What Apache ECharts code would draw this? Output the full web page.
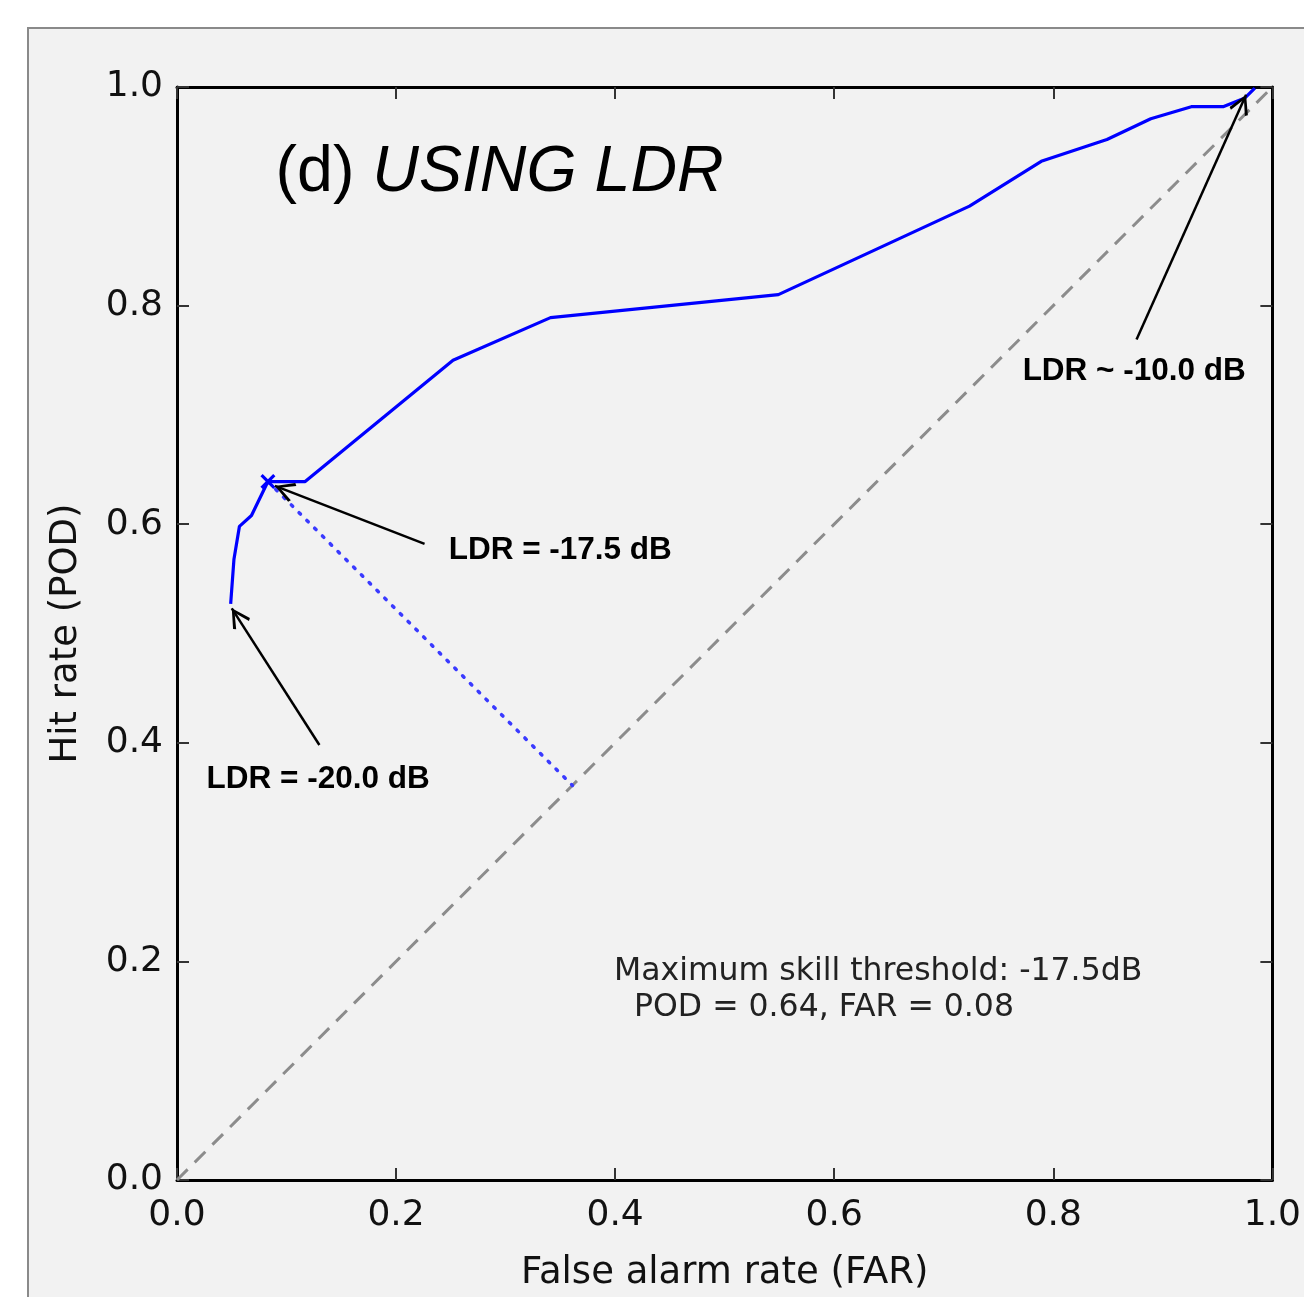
<!DOCTYPE html>
<html>
<head>
<meta charset="utf-8">
<script src="https://cdn.jsdelivr.net/npm/echarts@6/dist/echarts.min.js"></script>
<style>
  html, body { margin: 0; padding: 0; background: #fff; }
  #main { width: 1304px; height: 1297px; }
</style>
</head>
<body>
<div id="main"></div>
<script>
// ROC curve
const rocFar = [0.049, 0.052, 0.057, 0.068, 0.083, 0.117, 0.252, 0.341, 0.549, 0.7235, 0.789, 0.849, 0.889, 0.926, 0.955, 0.975, 0.984];
const rocPod = [0.527, 0.568, 0.598, 0.608, 0.639, 0.639, 0.750, 0.789, 0.810, 0.891, 0.932, 0.952, 0.971, 0.982, 0.982, 0.990, 0.999];

// no-skill diagonal
const diagFar = [0, 1];
const diagPod = [0, 1];

// best threshold and its distance to the diagonal
const bestPoint = [0.083, 0.639];
const bestFoot = [0.361, 0.361];

// arrows: [tail, head]
const arrowTails = [[0.876, 0.769], [0.226, 0.582], [0.130, 0.398]];
const arrowHeads = [[0.976, 0.993], [0.0894, 0.635], [0.050, 0.523]];

// annotation texts and their anchors (left, middle)
const noteTexts = ['LDR ~ -10.0 dB', 'LDR = -17.5 dB', 'LDR = -20.0 dB'];
const noteAnchors = [[0.772, 0.740], [0.248, 0.576], [0.027, 0.367]];

const tickLabels = ['0.0', '0.2', '0.4', '0.6', '0.8', '1.0'];

const chevron = 'path://M5,0 L10,9 L8.8,10 L5,2.6 L1.2,10 L0,9 Z';

const chart = echarts.init(document.getElementById('main'));

const tickFmt = v => tickLabels[Math.round(v / 0.2)];

const baseAxis = {
	type: 'value',
	min: 0,
	max: 1,
	interval: 0.2,
	splitLine: { show: false },
	axisLine: { show: true, onZero: false, lineStyle: { color: '#000', width: 3 } },
	axisTick: { show: true, inside: true, length: 12, lineStyle: { color: '#333', width: 2 } }
};

const labelStyle = {
	fontFamily: 'DejaVu Sans',
	fontSize: 36,
	color: '#111'
};

chart.setOption({
	backgroundColor: '#fff',
	animation: false,
	graphic: [{
		type: 'rect',
		z: -10,
		shape: { x: 28, y: 28, width: 1400, height: 1400 },
		style: { fill: '#f2f2f2', stroke: '#8a8a8a', lineWidth: 2 }
	}],
	grid: { left: 177, top: 87, right: 31, bottom: 114 },
	xAxis: [
		Object.assign({}, baseAxis, {
			position: 'bottom',
			axisLabel: Object.assign({ margin: 18, showMinLabel: true, showMaxLabel: true, formatter: tickFmt }, labelStyle),
			name: 'False alarm rate (FAR)',
			nameLocation: 'middle',
			nameGap: 75,
			nameTextStyle: { fontFamily: 'DejaVu Sans', fontSize: 37, color: '#111' }
		}),
		Object.assign({}, baseAxis, { position: 'top', axisLabel: { show: false } })
	],
	yAxis: [
		Object.assign({}, baseAxis, {
			position: 'left',
			axisLabel: Object.assign({ margin: 14, showMinLabel: true, showMaxLabel: true, formatter: tickFmt }, labelStyle),
			name: 'Hit rate (POD)',
			nameLocation: 'middle',
			nameGap: 92,
			nameTextStyle: { fontFamily: 'DejaVu Sans', fontSize: 37, color: '#111' }
		}),
		Object.assign({}, baseAxis, { position: 'right', axisLabel: { show: false } })
	],
	series: [
		{
			name: 'diagonal',
			type: 'line',
			showSymbol: false,
			silent: true,
			data: diagFar.map((x, i) => [x, diagPod[i]]),
			lineStyle: { color: '#8c8c8c', width: 3, type: [15, 10] },
			z: 1
		},
		{
			name: 'distance',
			type: 'line',
			showSymbol: false,
			data: [bestPoint, bestFoot],
			lineStyle: { color: '#3a3aff', width: 3.5, type: [2, 9], cap: 'round' },
			z: 2
		},
		{
			name: 'ROC',
			type: 'line',
			showSymbol: false,
			data: rocFar.map((x, i) => [x, rocPod[i]]),
			lineStyle: { color: '#0000ff', width: 3.2 },
			z: 3,
			markLine: {
				silent: true,
				label: { show: false },
				lineStyle: { color: '#000', width: 2.5, type: 'solid' },
				data: arrowTails.map((t, i) => [
					{ coord: t, symbol: 'none' },
					{ coord: arrowHeads[i], symbol: chevron, symbolSize: 20, symbolOffset: [0, 10], itemStyle: { color: '#000' } }
				])
			}
		},
		{
			name: 'best',
			type: 'scatter',
			data: [bestPoint],
			symbol: 'path://M0,1.5 L1.5,0 L5,3.5 L8.5,0 L10,1.5 L6.5,5 L10,8.5 L8.5,10 L5,6.5 L1.5,10 L0,8.5 L3.5,5 Z',
			symbolSize: 15,
			itemStyle: { color: '#0000ff', opacity: 1 },
			z: 4
		},
		{
			name: 'notes',
			type: 'scatter',
			symbolSize: 0,
			silent: true,
			itemStyle: { opacity: 1 },
			z: 5,
			data: noteAnchors.map((p, i) => ({
				value: p,
				label: {
					show: true,
					position: 'right',
					distance: 0,
					formatter: noteTexts[i],
					fontFamily: 'Liberation Sans',
					fontWeight: 'bold',
					fontSize: 31.5,
					color: '#000'
				}
			})).concat([
				{
					value: [0.399, 0.174],
					label: {
						show: true,
						position: 'right',
						distance: 0,
						formatter: 'Maximum skill threshold: -17.5dB\n  POD = 0.64, FAR = 0.08',
						fontFamily: 'DejaVu Sans',
						fontSize: 31.5,
						lineHeight: 36,
						color: '#222'
					}
				},
				{
					value: [0.090, 0.921],
					label: {
						show: true,
						position: 'right',
						distance: 0,
						formatter: '{n|(d) }{i|USING LDR}',
						rich: {
							n: { fontFamily: 'Liberation Sans', fontSize: 64.5, color: '#000' },
							i: { fontFamily: 'Liberation Sans', fontSize: 64.5, fontStyle: 'italic', color: '#000' }
						}
					}
				}
			])
		}
	]
});
</script>
</body>
</html>
